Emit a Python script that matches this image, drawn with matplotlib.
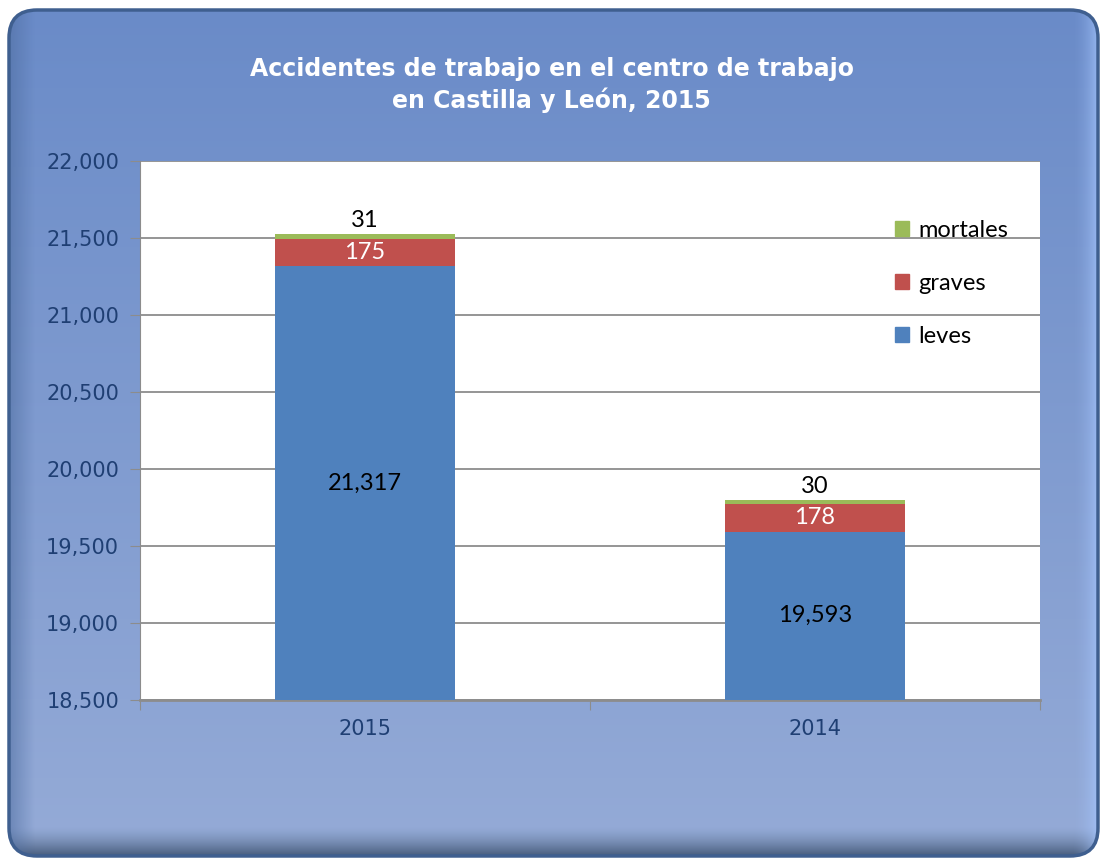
import numpy as np
import matplotlib
matplotlib.use("Agg")
import matplotlib.pyplot as plt
from matplotlib.patches import FancyBboxPatch, Patch
from matplotlib.ticker import FuncFormatter, MultipleLocator

# data
years = ["2015", "2014"]
leves = [21317, 19593]
graves = [175, 178]
mortales = [31, 30]

c_leves = "#4f81bd"
c_graves = "#c0504d"
c_mortales = "#9bbb59"
tick_col = "#1f3f73"

fig = plt.figure(figsize=(11.03, 8.61), dpi=100)
fig.patch.set_facecolor("white")

# background panel with gradient, rounded corners
bg = fig.add_axes([0, 0, 1, 1])
bg.set_xlim(0, 1103)
bg.set_ylim(861, 0)
bg.axis("off")
grad = np.linspace(0, 1, 256).reshape(-1, 1)
top = np.array([0x6a, 0x8b, 0xc8]) / 255
bot = np.array([0x95, 0xab, 0xd7]) / 255
img = top + (bot - top) * grad[..., None]
img = img.reshape(256, 1, 3)
im = bg.imshow(img, extent=(7, 1100, 858, 8), aspect="auto", zorder=0)
panel = FancyBboxPatch((9, 10), 1089, 846, boxstyle="round,pad=0,rounding_size=28",
                       facecolor="none", edgecolor="#3f5f8f", linewidth=2.5, zorder=2)
bg.add_patch(panel)
im.set_clip_path(panel)
# darker shadow at the bottom, highlight at right
shade = np.linspace(0, 1, 64).reshape(-1, 1)
sh = np.zeros((64, 1, 4))
sh[..., 0] = 0.25
sh[..., 1] = 0.33
sh[..., 2] = 0.45
sh[..., 3] = (shade ** 1.5)
s1 = bg.imshow(sh, extent=(7, 1100, 858, 826), aspect="auto", zorder=1)
s1.set_clip_path(panel)
hl = np.zeros((1, 64, 4))
hl[..., 0] = 0.65
hl[..., 1] = 0.78
hl[..., 2] = 1.0
hl[..., 3] = np.linspace(0, 0.9, 64) ** 2
s2 = bg.imshow(hl, extent=(1070, 1100, 858, 8), aspect="auto", zorder=1)
s2.set_clip_path(panel)
lf = np.zeros((1, 64, 4))
lf[..., 0] = 0.30
lf[..., 1] = 0.42
lf[..., 2] = 0.62
lf[..., 3] = np.linspace(0.6, 0, 64)
s3 = bg.imshow(lf, extent=(7, 35, 858, 8), aspect="auto", zorder=1)
s3.set_clip_path(panel)

fig.text(0.5, 1 - 85 / 861, "Accidentes de trabajo en el centro de trabajo\nen Castilla y León, 2015",
         ha="center", va="center", color="white", fontsize=17, fontweight="bold",
         family="DejaVu Sans", linespacing=1.35)

ax = fig.add_axes([140 / 1103, 1 - 700 / 861, 900 / 1103, 539 / 861])
ax.set_facecolor("white")
x = np.arange(len(years))
w = 0.4
ax.bar(x, leves, w, color=c_leves, zorder=3)
ax.bar(x, graves, w, bottom=leves, color=c_graves, zorder=3)
tops = [l + g for l, g in zip(leves, graves)]
ax.bar(x, mortales, w, bottom=tops, color=c_mortales, zorder=3)

ymin, ymax = 18500, 22000
ax.set_ylim(ymin, ymax)
ax.set_xlim(-0.5, 1.5)
ax.yaxis.set_major_locator(MultipleLocator(500))
ax.yaxis.set_major_formatter(FuncFormatter(lambda v, p: f"{int(v):,}"))
ax.grid(axis="y", color="#8c8c8c", linewidth=1.3, zorder=0)
ax.set_axisbelow(True)

for s in ["top", "right"]:
    ax.spines[s].set_visible(False)
ax.spines["left"].set_color("#8c8c8c")
ax.spines["bottom"].set_color("#8c8c8c")
ax.spines["bottom"].set_linewidth(2)

ax.set_xticks([-0.5, 0.5, 1.5])
ax.set_xticklabels([])
ax.set_xticks(x, minor=True)
ax.set_xticklabels(years, minor=True)
ax.tick_params(axis="x", which="major", length=7, color="#8c8c8c", direction="out")
ax.tick_params(axis="x", which="minor", length=0, pad=14, labelsize=15, labelcolor=tick_col)
ax.tick_params(axis="y", length=7, color="#8c8c8c", labelsize=15, labelcolor=tick_col, pad=8)
for lab in ax.get_yticklabels() + ax.get_xticklabels(minor=True):
    lab.set_family("Liberation Sans Narrow")

lab_font = dict(family="Lato", fontsize=17)
for i in range(len(years)):
    ax.text(x[i], (ymin + leves[i]) / 2, f"{leves[i]:,}",
            ha="center", va="center", color="black", **lab_font)
    ax.text(x[i], leves[i] + graves[i] / 2, f"{graves[i]}", ha="center", va="center",
            color="white", zorder=4, **lab_font)
    ax.text(x[i], tops[i] + mortales[i] + 20, f"{mortales[i]}", ha="center", va="bottom",
            color="black", **lab_font)

handles = [Patch(color=c_mortales, label="mortales"),
           Patch(color=c_graves, label="graves"),
           Patch(color=c_leves, label="leves")]
ax.legend(handles=handles, loc="upper left", bbox_to_anchor=(0.815, 0.93), frameon=False,
          prop={"family": "Lato", "size": 17}, handlelength=0.6, handleheight=0.6,
          handletextpad=0.4, labelspacing=1.35)

fig.savefig("out.png", dpi=100)
